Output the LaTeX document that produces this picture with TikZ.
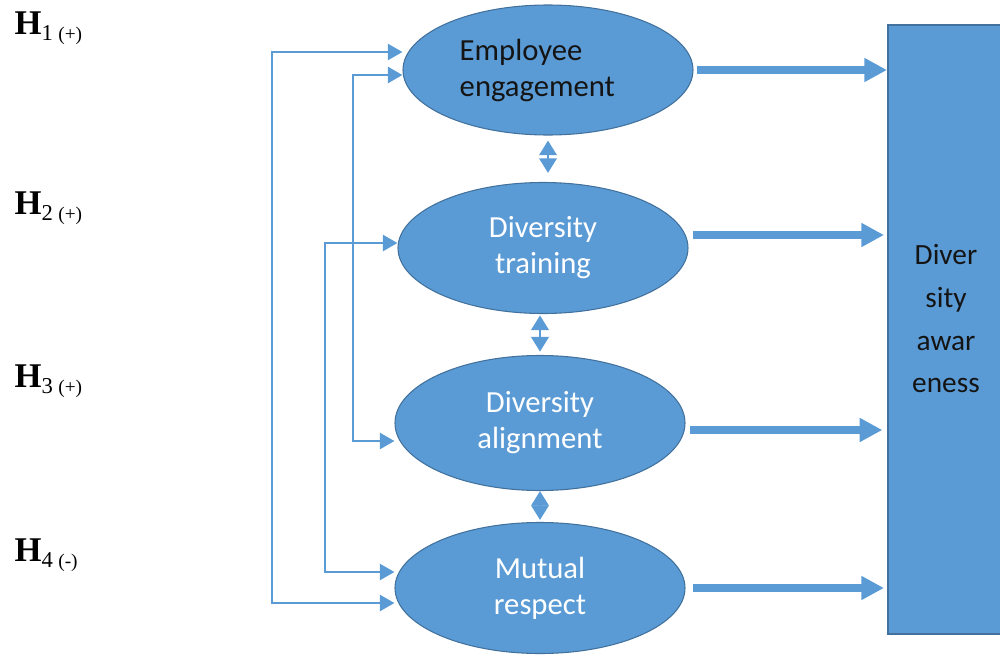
\documentclass[tikz,border=0pt]{standalone}
\usepackage{fontspec}
\setmainfont{Liberation Serif}
\newfontfamily\boxfont{Carlito}
\usetikzlibrary{shapes.geometric,arrows.meta}
\definecolor{ovalcolor}{RGB}{91,155,213}
\definecolor{rimcolor}{RGB}{65,113,156}
\definecolor{inkcolor}{RGB}{20,20,20}
\tikzset{
  construct/.style={draw=rimcolor, line width=0.8pt, fill=ovalcolor, ellipse, inner sep=0pt,
    minimum width=217.5pt, text=white, align=center,
    font=\boxfont\fontsize{23}{27}\selectfont},
  outcome/.style={draw=rimcolor, line width=1.5pt, fill=ovalcolor, minimum width=87pt, minimum height=456.75pt},
  effect/.style={draw=ovalcolor, line width=6pt, -{Triangle[width=17pt,length=17pt]}},
  conn/.style={draw=ovalcolor, line width=2pt, {Triangle[width=12pt,length=11pt]}-{Triangle[width=12pt,length=11pt]}},
  corr/.style={draw=ovalcolor, line width=2pt, {Triangle[width=13pt,length=11pt]}-{Triangle[width=13pt,length=11pt]}},
  hyp/.style={anchor=base west, font=\fontsize{26}{26}\selectfont}
}
\newcommand{\hypname}[2]{\textbf{H}\raisebox{-5pt}{\fontsize{17}{17}\selectfont #1\hspace{4pt}\fontsize{14.5}{14.5}\selectfont #2}}

\begin{document}
\begin{tikzpicture}[x=0.75pt,y=-0.75pt]
    \useasboundingbox (0,0) rectangle (1000,657);

    % Hypotheses
    \node[hyp] (h1) at (10,34) {\hypname{1}{(+)}};
    \node[hyp] (h2) at (10,214) {\hypname{2}{(+)}};
    \node[hyp] (h3) at (10,387) {\hypname{3}{(+)}};
    \node[hyp] (h4) at (10,561) {\hypname{4}{(-)}};

    % Independent variables
    \node[construct, text=inkcolor, align=left, minimum height=97.5pt] (engage) at (548,70) {Employee\\engagement\hspace*{16pt}};
    \node[construct, minimum height=98.25pt] (training) at (543,248) {Diversity\\training};
    \node[construct, minimum height=101.25pt] (alignment) at (540,423) {Diversity\\alignment};
    \node[construct, minimum height=98.25pt] (respect) at (540,588) {Mutual\\respect};

    % Dependent variable
    \node[outcome] (aware) at (946,329.5) {};
    \node[font=\boxfont\fontsize{22}{32}\selectfont, text=inkcolor, align=center] (awarelabel) at (946,319) {Diver\\sity\\awar\\eness};

    % Effects on awareness
    \coordinate (e1) at (697,70);
    \coordinate (e2) at (693,235);
    \coordinate (e3) at (690,430);
    \coordinate (e4) at (693,588);
    \draw[effect] (e1) -- (e1 -| aware.west);
    \draw[effect, shorten >=2.25pt] (e2) -- (e2 -| aware.west);
    \draw[effect, shorten >=3.5pt] (e3) -- (e3 -| aware.west);
    \draw[effect, shorten >=2.25pt] (e4) -- (e4 -| aware.west);

    % Links between neighbours
    \draw[corr, shorten <=3.75pt, shorten >=6.75pt] (engage.south) -- (engage.south |- training.north);
    \draw[corr, shorten <=1pt, shorten >=2.5pt] (training.south -| alignment.north) -- (alignment.north);
    \draw[corr, shorten >=1.5pt] (alignment.south) -- (alignment.south |- respect.north);

    % Links on the left
    \coordinate (top1) at (272,52);
    \coordinate (bot1) at (272,603);
    \draw[conn] (top1 -| engage.west) -- (top1) -- (bot1) -- (bot1 -| respect.west);
    \coordinate (top2) at (353,75);
    \coordinate (bot2) at (353,441);
    \draw[conn] (top2 -| engage.west) -- (top2) -- (bot2) -- (bot2 -| alignment.west);
    \coordinate (top3) at (325,243);
    \coordinate (bot3) at (325,572);
    \draw[conn] (top3 -| training.west) -- (top3) -- (bot3) -- (bot3 -| respect.west);
\end{tikzpicture}
\end{document}
